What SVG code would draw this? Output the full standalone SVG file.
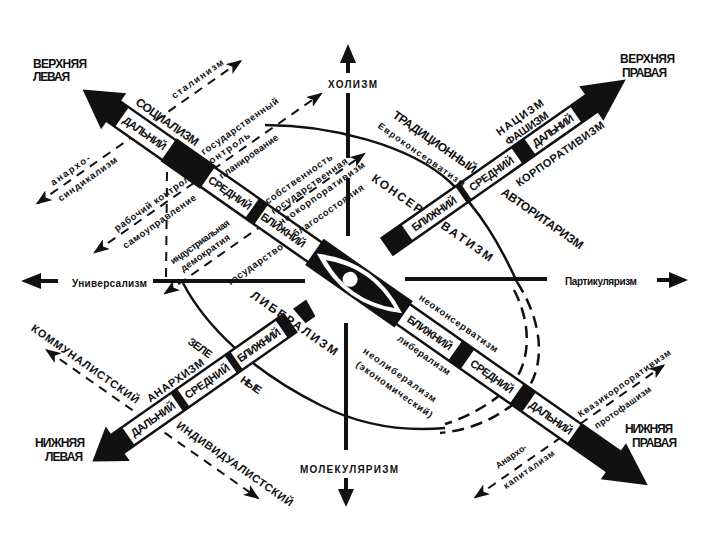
<svg xmlns="http://www.w3.org/2000/svg" width="720" height="540" viewBox="0 0 720 540">
<defs>
<style>
text{font-family:"Liberation Sans","DejaVu Sans",sans-serif;font-weight:bold;fill:#111}
.big{font-size:12px}
.lab{font-size:11px}
.sm{font-size:9.5px}
.xs{font-size:9px}
.bar{fill:#fff;stroke:#111;stroke-width:2.5}
.blk{fill:#111}
.axis{stroke:#111;stroke-width:4;fill:none}
.ell{stroke:#111;stroke-width:2.5;fill:none}
.dash{stroke:#111;stroke-width:2.5;fill:none;stroke-dasharray:12 7}
.conn{stroke:#111;stroke-width:2;fill:none;stroke-dasharray:9 7;marker-start:url(#ah);marker-end:url(#ah)}
.mid{text-anchor:middle}
</style>
<marker id="ah" viewBox="0 0 16 12" refX="14" refY="6" markerWidth="8" markerHeight="6" orient="auto-start-reverse"><path d="M0,0 L16,6 L0,12 L4,6 Z" fill="#111"/></marker>
</defs>
<rect width="720" height="540" fill="#fff"/>

<g id="connectors">
  <path class="ell" d="M265,125 C330,125 410,145 450,182 C480,210 500,245 517,282"/>
  <path class="ell" d="M183,283 C205,325 250,370 320,405 C360,425 400,432 445,428"/>
  <path class="dash" d="M517,282 C548,330 548,385 505,410 C490,420 470,430 440,433"/>
  <path class="dash" d="M514,290 C535,330 530,375 500,395 C485,407 465,418 445,424"/>
  <path class="axis" d="M348,93 V158 M348,178 V236 M346,323 V450 M153,281 H305 M405,279 H547"/>
  <path class="axis" d="M348,60 V73 M346,478 V492 M38,281 H58 M657,280 H672"/>
  <polygon class="blk" points="348,44 356,63 340,63"/>
  <polygon class="blk" points="346,507 354,489 338,489"/>
  <polygon class="blk" points="21,281 41,273 41,289"/>
  <polygon class="blk" points="688,280 669,272 669,288"/>
  <g transform="rotate(-35)">
    <path class="conn" d="M-86,188 H162"/>
    <path class="conn" d="M-67,261 H209"/>
    <path class="conn" d="M-33,335 H210"/>
    <path class="conn" d="M104,680 H334"/>
  </g>
  <g transform="rotate(35)">
    <path class="conn" d="M239,260 H497"/>
  </g>
  <path d="M167,172 L166,282" stroke="#111" stroke-width="2" stroke-dasharray="9 7" fill="none"/>
</g>

<g id="bar-main" transform="rotate(35)">
  <rect class="bar" x="155" y="14" width="614" height="24"/>
  <rect class="blk" x="155" y="14" width="12" height="24"/>
  <rect class="blk" x="224" y="12" width="48" height="28"/>
  <rect class="blk" x="326" y="14" width="11" height="24"/>
  <rect class="blk" x="402" y="10" width="109" height="32"/>
  <rect class="blk" x="574" y="14" width="15" height="24"/>
  <rect class="blk" x="649" y="14" width="15" height="24"/>
  <rect class="blk" x="719" y="14" width="50" height="24"/>
  <polygon class="blk" points="157,4 119,26 157,48"/>
  <polygon class="blk" points="767,4 809,26 767,48"/>
  <path d="M405,26 Q457,-2 509,26 Q457,54 405,26 Z" fill="#fff"/>
  <path d="M416,26 Q458,6 500,26 Q458,46 416,26 Z" fill="#111"/>
  <circle cx="447" cy="28" r="7.5" fill="#fff"/>
  <text class="lab mid" x="195" y="30" textLength="50">ДАЛЬНИЙ</text>
  <text class="lab mid" x="299" y="30" textLength="50">СРЕДНИЙ</text>
  <text class="lab mid" x="364" y="30" textLength="52">БЛИЖНИЙ</text>
  <text class="lab mid" x="543" y="30" textLength="52">БЛИЖНИЙ</text>
  <text class="lab mid" x="619" y="30" textLength="50">СРЕДНИЙ</text>
  <text class="lab mid" x="691" y="30" textLength="50">ДАЛЬНИЙ</text>
</g>

<g id="bar-upper-right" transform="rotate(-35)">
  <rect class="bar" x="176" y="414" width="251" height="20"/>
  <rect class="blk" x="176" y="414" width="24" height="20"/>
  <rect class="blk" x="266" y="414" width="6" height="20"/>
  <rect class="blk" x="334" y="414" width="16" height="20"/>
  <rect class="blk" x="406" y="414" width="21" height="20"/>
  <polygon class="blk" points="425,403 467,424 425,445"/>
  <text class="lab mid" x="233" y="428" textLength="52">БЛИЖНИЙ</text>
  <text class="lab mid" x="303" y="428" textLength="52">СРЕДНИЙ</text>
  <text class="lab mid" x="378" y="428" textLength="48">ДАЛЬНИЙ</text>
</g>

<g id="bar-lower-left" transform="rotate(-35)">
  <rect class="bar" x="-160" y="420" width="212" height="22"/>
  <rect class="blk" x="-160" y="420" width="15" height="22"/>
  <rect class="blk" x="-86" y="420" width="8" height="22"/>
  <rect class="blk" x="-20" y="420" width="7" height="22"/>
  <rect class="blk" x="42" y="420" width="10" height="22"/>
  <polygon class="blk" points="63,421 79,421 77,440 65,440"/>
  <polygon class="blk" points="-158,410 -189,431 -158,452"/>
  <text class="lab mid" x="-115" y="435" textLength="52">ДАЛЬНИЙ</text>
  <text class="lab mid" x="-49" y="435" textLength="52">СРЕДНИЙ</text>
  <text class="lab mid" x="14" y="435" textLength="50">БЛИЖНИЙ</text>
</g>

<g id="labels-main-dir" transform="rotate(35)">
  <g id="socialism"><text class="big" x="170" y="8" textLength="74">СОЦИАЛИЗМ</text></g>
  <g id="liberalism"><text class="big" x="375" y="100" textLength="103">ЛИБЕРАЛИЗМ</text></g>
  <g id="conservatism"><text class="big" x="407" y="-65" textLength="59">КОНСЕР</text><text class="big" x="491" y="-66" textLength="60">ВАТИЗМ</text></g>
  <g id="traditional"><text class="big" x="388" y="-129" textLength="99">ТРАДИЦИОННЫЙ</text></g>
  <g id="euroconservatism"><text class="xs" x="382" y="-112" textLength="104">Евроконсерватизм</text></g>
  <g id="authoritarianism"><text class="big" x="521" y="-128" textLength="97">АВТОРИТАРИЗМ</text></g>
  <g id="neoconservatism"><text class="sm" x="514" y="5" textLength="94">неоконсерватизм</text></g>
  <g id="liberalizm-small"><text class="sm" x="520" y="51" textLength="62">либерализм</text></g>
  <g id="neoliberalism"><text class="sm" x="499" y="81" textLength="87">неолиберализм</text><text class="sm" x="501" y="96" textLength="91">(экономический)</text></g>
  <g id="communalist"><text class="lab" x="214" y="253" textLength="129">КОММУНАЛИСТСКИЙ</text></g>
  <g id="individualist"><text class="lab" x="389" y="249" textLength="139">ИНДИВИДУАЛИСТСКИЙ</text></g>
  <g id="greens"><text class="lab" x="350" y="174" textLength="27">ЗЕЛЕ</text><text class="lab" x="415" y="175" textLength="23">НЫЕ</text></g>
</g>

<g id="labels-cross-dir" transform="rotate(-35)">
  <g id="stalinism"><text class="sm" x="86" y="181" textLength="61">сталинизм</text></g>
  <g id="anarchosyndicalism"><text class="sm" x="-63" y="183" textLength="46">анархо-</text><text class="sm" x="-66" y="200" textLength="70">синдикализм</text></g>
  <g id="state-control"><text class="sm" x="78" y="244" textLength="92">государственный</text><text class="sm" x="73" y="256" textLength="54">контроль</text><text class="sm" x="79" y="274" textLength="70">планирование</text></g>
  <g id="workers-control"><text class="sm" x="-37" y="257" textLength="96">рабочий контроль</text><text class="sm" x="-40" y="276" textLength="87">самоуправление</text></g>
  <g id="industrial-democracy"><text class="sm" x="-10" y="316" textLength="70">индустриальная</text><text class="sm" x="-6" y="328" textLength="58">демократия</text></g>
  <g id="state-property"><text class="sm" x="102" y="321" textLength="80">собственность</text><text class="sm" x="101" y="333" textLength="91">государственная</text><text class="sm" x="101" y="346" textLength="103">неокорпоративизм</text></g>
  <g id="welfare-state"><text class="sm" x="25" y="366" textLength="65">государство</text><text class="sm" x="106" y="364" textLength="84">благосостояния</text></g>
  <g id="nazism"><text class="lab" x="331" y="398" textLength="55">НАЦИЗМ</text><text class="lab" x="333" y="411" textLength="50">ФАШИЗМ</text></g>
  <g id="corporativism"><text class="lab" x="318" y="451" textLength="105">КОРПОРАТИВИЗМ</text></g>
  <g id="anarchism"><text class="lab" x="-108" y="416" textLength="67">АНАРХИЗМ</text></g>
  <g id="quasicorporativism"><text class="xs" x="236" y="675" textLength="111">Квазикорпоративизм</text><text class="xs" x="243" y="694" textLength="67">протофашизм</text></g>
  <g id="anarchocapitalism"><text class="xs" x="139" y="670" textLength="36">Анархо-</text><text class="xs" x="134" y="691" textLength="60">капитализм</text></g>
</g>

<g id="corner-upper-left"><text class="big" x="33" y="68" textLength="54">ВЕРХНЯЯ</text><text class="big" x="33" y="81" textLength="37">ЛЕВАЯ</text></g>
<g id="corner-upper-right"><text class="big" x="620" y="63" textLength="55">ВЕРХНЯЯ</text><text class="big" x="622" y="77" textLength="45">ПРАВАЯ</text></g>
<g id="corner-lower-left"><text class="big" x="35" y="447" textLength="50">НИЖНЯЯ</text><text class="big" x="45" y="461" textLength="38">ЛЕВАЯ</text></g>
<g id="corner-lower-right"><text class="big" x="625" y="433" textLength="48">НИЖНЯЯ</text><text class="big" x="632" y="447" textLength="45">ПРАВАЯ</text></g>
<g id="holism"><text style="font-size:10px" x="328" y="88" textLength="49">ХОЛИЗМ</text></g>
<g id="molecularism"><text style="font-size:10px" x="300" y="473" textLength="98">МОЛЕКУЛЯРИЗМ</text></g>
<g id="universalism"><text style="font-size:10px" x="72" y="287" textLength="75">Универсализм</text></g>
<g id="particularism"><text style="font-size:10px" x="565" y="285" textLength="72">Партикуляризм</text></g>
</svg>
